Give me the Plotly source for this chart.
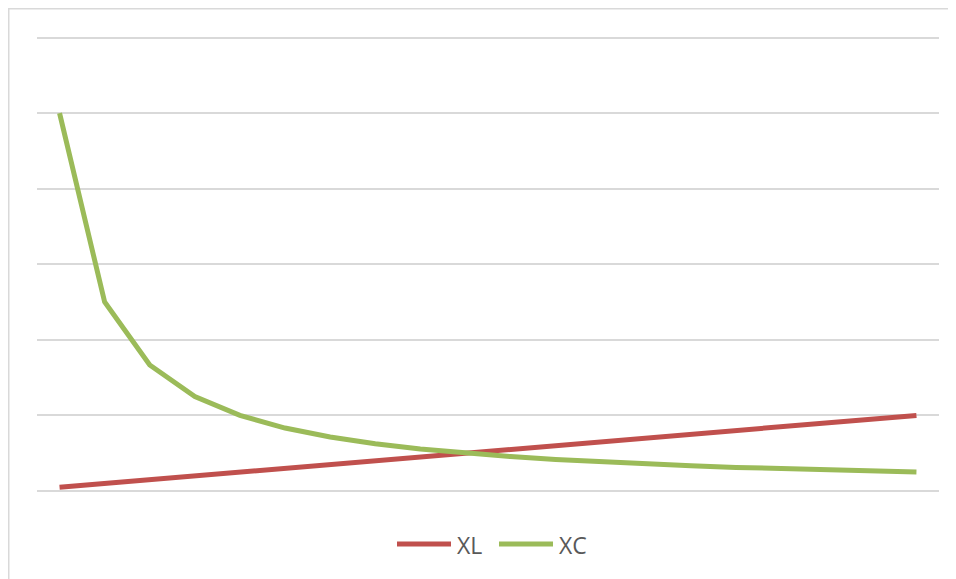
import plotly.graph_objects as go

# Data
categories = list(range(1, 21))
xl_values = [0.05, 0.10, 0.15, 0.20, 0.25, 0.30, 0.35, 0.40, 0.45, 0.50,
             0.55, 0.60, 0.65, 0.70, 0.75, 0.80, 0.85, 0.90, 0.95, 1.00]
xc_values = [5.00, 2.50, 1.667, 1.25, 1.00, 0.833, 0.714, 0.625, 0.556, 0.50,
             0.455, 0.417, 0.385, 0.357, 0.333, 0.3125, 0.294, 0.278, 0.263, 0.25]
series_names = ["XL", "XC"]
series_colors = ["#C0504D", "#9BBB59"]

W, H = 956, 579
L, R, T, B = 29, 25, 28, 96
pw, ph = W - L - R, H - T - B


def px_x(p):
    return (p - L) / pw


def px_y(p):
    return (H - B - p) / ph


fig = go.Figure()
for name, vals, col in zip(series_names, [xl_values, xc_values], series_colors):
    fig.add_trace(go.Scatter(
        x=categories, y=vals, mode="lines", name=name,
        line=dict(color=col, width=5), showlegend=False,
    ))

shapes = []
annotations = []
# chart border: only left and top edges are visible (rest is cropped)
bx0, by0, bx1, by1 = px_x(0.75), px_y(0.75), px_x(2000), px_y(2000)
shapes.append(dict(type="path", xref="paper", yref="paper",
                   path=f"M {bx0},{by1} L {bx0},{by0} L {bx1},{by0}",
                   line=dict(color="#D9D9D9", width=1.5), layer="below"))

# custom legend
legend_items = [(389, 443, 447), (491, 545, 549)]
for (lx0, lx1, tx), name, col in zip(legend_items, series_names, series_colors):
    shapes.append(dict(type="line", xref="paper", yref="paper",
                       x0=px_x(lx0), x1=px_x(lx1), y0=px_y(536), y1=px_y(536),
                       line=dict(color=col, width=5)))
    annotations.append(dict(xref="paper", yref="paper", x=px_x(tx), y=px_y(537),
                            xanchor="left", yanchor="middle", showarrow=False,
                            text=name, font=dict(size=23, color="#595959",
                                                 family="Open Sans, sans-serif")))

fig.update_layout(
    width=W, height=H,
    margin=dict(l=L, r=R, t=T, b=B),
    paper_bgcolor="white", plot_bgcolor="white",
    shapes=shapes, annotations=annotations,
    xaxis=dict(range=[0.5, 20.5], showgrid=False, showticklabels=False,
               zeroline=False, showline=False, ticks=""),
    yaxis=dict(range=[0, 6.02], tickvals=[0, 1, 2, 3, 4, 5, 6], showgrid=True,
               gridcolor="#D9D9D9", gridwidth=1.5, zeroline=True,
               zerolinecolor="#D9D9D9", zerolinewidth=1.5,
               showticklabels=False, ticks="", showline=False),
    showlegend=False,
)

fig.write_html("out.html")
